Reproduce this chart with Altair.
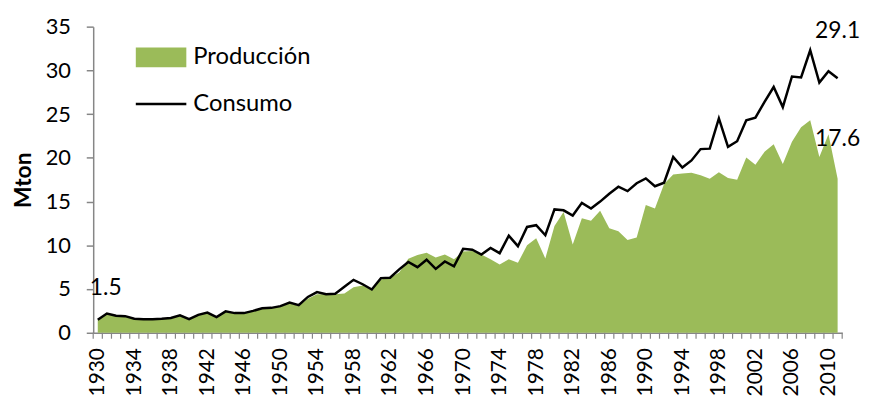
import altair as alt
import pandas as pd

years = list(range(1930, 2012))

consumo = [
    1.5, 2.2, 1.95, 1.9, 1.6, 1.55, 1.55, 1.6, 1.7, 2.0,
    1.55, 2.05, 2.3, 1.8, 2.45, 2.25, 2.25, 2.5, 2.8, 2.85,
    3.05, 3.45, 3.15, 4.1, 4.65, 4.4, 4.45, 5.25, 6.05, 5.55,
    4.95, 6.25, 6.3, 7.25, 8.1, 7.5, 8.35, 7.3, 8.15, 7.6,
    9.6, 9.5, 8.95, 9.7, 9.1, 11.1, 9.9, 12.1, 12.3, 11.15,
    14.1, 14.0, 13.4, 14.85, 14.2, 15.0, 15.9, 16.7, 16.2, 17.1,
    17.65, 16.75, 17.15, 20.1, 18.9, 19.7, 21.0, 21.05, 24.5, 21.25,
    21.9, 24.3, 24.6, 26.4, 28.1, 25.8, 29.3, 29.2, 32.3, 28.6,
    29.9, 29.1,
]

produccion = [
    1.5, 2.15, 1.9, 1.85, 1.55, 1.5, 1.5, 1.55, 1.65, 1.95,
    1.5, 2.0, 2.25, 1.75, 2.4, 2.2, 2.2, 2.45, 2.75, 2.8,
    3.0, 3.35, 3.1, 3.9, 4.4, 4.4, 4.4, 4.5, 5.2, 5.4,
    4.95, 6.1, 6.3, 6.9, 8.45, 8.9, 9.15, 8.6, 8.95, 8.4,
    9.3, 9.35, 8.95, 8.4, 7.8, 8.4, 8.0, 10.0, 10.8, 8.5,
    12.2, 13.8, 10.1, 13.1, 12.8, 13.95, 11.95, 11.6, 10.6, 10.9,
    14.6, 14.2, 17.0, 18.1, 18.2, 18.3, 18.0, 17.6, 18.35, 17.7,
    17.5, 20.05, 19.2, 20.7, 21.55, 19.3, 21.85, 23.5, 24.3, 20.1,
    22.7, 17.6,
]

label_years = list(range(1930, 2012, 4))
y_ticks = [0, 5, 10, 15, 20, 25, 30, 35]
legend_labels = ["Producción", "Consumo"]
y_title = "Mton"

GREEN = "#9BBB59"
GRAY = "#868686"
FONT = "Lato"
W, H = 756, 309

df = pd.DataFrame({"year": years, "consumo": consumo, "produccion": produccion})
bounds = pd.DataFrame({"b": [y - 0.5 for y in years] + [years[-1] + 0.5]})

xscale = alt.Scale(domain=[years[0] - 0.5, years[-1] + 0.5], nice=False, zero=False)
yscale = alt.Scale(domain=[0, 35], nice=False)

xaxis = alt.Axis(values=label_years, labelAngle=-90, ticks=False, tickSize=0,
                 labelPadding=15, labelFontSize=21, labelFont=FONT, labelColor="black",
                 domainColor=GRAY, domainWidth=1.5, grid=False, title=None, format="d",
                 labelOverlap=False, labelFlush=False, labelBound=False)
yaxis = alt.Axis(values=y_ticks, tickSize=7, tickColor=GRAY, tickWidth=1.5,
                 labelPadding=16, labelFontSize=22, labelFont=FONT, labelColor="black",
                 domainColor=GRAY, domainWidth=1.5, grid=False, title=y_title,
                 titleFont=FONT, titleFontSize=23, titleFontWeight="bold",
                 titleColor="black", titlePadding=10, labelOverlap=False)

X = lambda f: alt.X(f, scale=xscale, axis=xaxis)
Y = lambda f: alt.Y(f, scale=yscale, axis=yaxis)

area = alt.Chart(df).mark_area(color=GREEN, opacity=1).encode(
    x=X("year:Q"), y=Y("produccion:Q"),
)

line = alt.Chart(df).mark_line(color="black", strokeWidth=2.5).encode(
    x=X("year:Q"), y=Y("consumo:Q"),
)

ticks = alt.Chart(bounds).mark_rule(color=GRAY, strokeWidth=1.2).encode(
    x=X("b:Q"),
    y=alt.value(H),
    y2=alt.value(H + 6),
)

ann_first = pd.DataFrame({"year": [years[0]], "v": [consumo[0]], "t": [f"{consumo[0]:.1f}"]})
ann_last_c = pd.DataFrame({"year": [years[-1]], "v": [consumo[-1]], "t": [f"{consumo[-1]:.1f}"]})
ann_last_p = pd.DataFrame({"year": [years[-1]], "v": [produccion[-1]], "t": [f"{produccion[-1]:.1f}"]})

def ann(d, dx, dy):
    return alt.Chart(d).mark_text(fontSize=23, font=FONT, color="black", dx=dx, dy=dy).encode(
        x=X("year:Q"), y=Y("v:Q"), text="t:N",
    )

leg_rect = alt.Chart(pd.DataFrame({"k": [legend_labels[0]]})).mark_rect(color=GREEN).encode(
    x=alt.value(43), x2=alt.value(94), y=alt.value(21), y2=alt.value(41)
)
leg_line = alt.Chart(pd.DataFrame({"k": [legend_labels[1]]})).mark_rule(color="black", strokeWidth=2.5).encode(
    x=alt.value(43), x2=alt.value(94), y=alt.value(78)
)

def leg_text(label, ypos):
    return alt.Chart(pd.DataFrame({"k": [label]})).mark_text(
        fontSize=24, font=FONT, color="black", align="left", baseline="middle"
    ).encode(x=alt.value(101), y=alt.value(ypos), text="k:N")

chart = alt.layer(
    area, line, ticks,
    ann(ann_first, 8, -32), ann(ann_last_c, 0, -48), ann(ann_last_p, 0, -40),
    leg_rect, leg_line, leg_text(legend_labels[0], 31), leg_text(legend_labels[1], 78),
).properties(
    width=W, height=H,
    padding={"left": 86, "top": 17, "right": 20, "bottom": 62},
    autosize=alt.AutoSizeParams(type="none"),
).configure_view(stroke=None)

chart.save("out.html", embed_options={"renderer": "svg", "actions": False})
